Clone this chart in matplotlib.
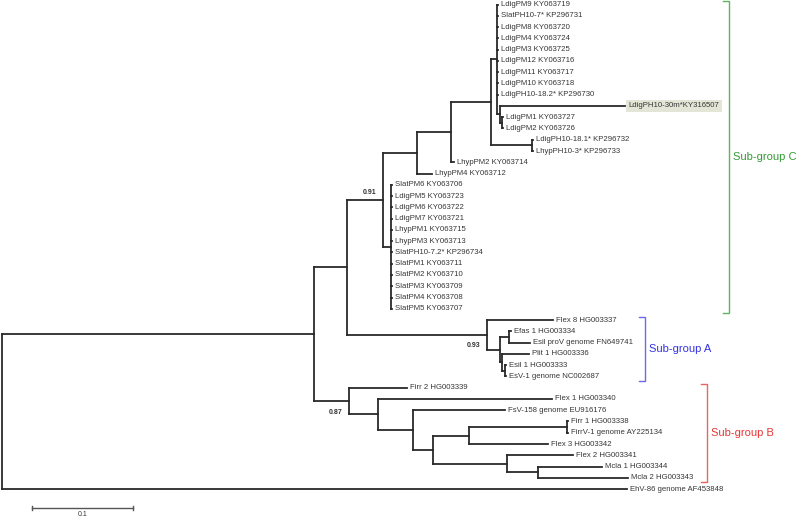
import matplotlib
matplotlib.use("Agg")
import matplotlib.pyplot as plt
from matplotlib.collections import LineCollection

# ---------------- data ----------------
LEAF_LABELS = [
    "LdigPM9 KY063719", "SlatPH10-7* KP296731", "LdigPM8 KY063720", "LdigPM4 KY063724",
    "LdigPM3 KY063725", "LdigPM12 KY063716", "LdigPM11 KY063717", "LdigPM10 KY063718",
    "LdigPH10-18.2* KP296730", "LdigPH10-30m*KY316507", "LdigPM1 KY063727", "LdigPM2 KY063726",
    "LdigPH10-18.1* KP296732", "LhypPH10-3* KP296733", "LhypPM2 KY063714", "LhypPM4 KY063712",
    "SlatPM6 KY063706", "LdigPM5 KY063723", "LdigPM6 KY063722", "LdigPM7 KY063721",
    "LhypPM1 KY063715", "LhypPM3 KY063713", "SlatPH10-7.2* KP296734", "SlatPM1 KY063711",
    "SlatPM2 KY063710", "SlatPM3 KY063709", "SlatPM4 KY063708", "SlatPM5 KY063707",
    "Flex 8 HG003337", "Efas 1 HG003334", "Esil proV genome FN649741", "Plit 1 HG003336",
    "Esil 1 HG003333", "EsV-1 genome NC002687", "Firr 2 HG003339", "Flex 1 HG003340",
    "FsV-158 genome EU916176", "Firr 1 HG003338", "FirrV-1 genome AY225134", "Flex 3 HG003342",
    "Flex 2 HG003341", "Mcla 1 HG003344", "Mcla 2 HG003343", "EhV-86 genome AF453848",
]
HIGHLIGHT_LEAF = 9

# clade topology (Newick, leaves = indices into LEAF_LABELS, internal labels = support)
CLADE_P = ("(0:0.001,1:0.001,2:0.001,3:0.001,4:0.001,5:0.001,6:0.001,7:0.001,8:0.001,"
           "(9:0.1229,(10:0.001,11:0.001):0.002):0.003)")
CLADE_O = "(" + CLADE_P + ":0.0059,(12:0.001,13:0.001):0.0403)"
CLADE_N = "(" + CLADE_O + ":0.0393,14:0.003)"
CLADE_C1 = "(" + CLADE_N + ":0.0334,15:0.0147)"
CLADE_M = "(" + ",".join(f"{i}:0.0005" for i in range(16, 28)) + ")"
CLADE_C = "(" + CLADE_C1 + ":0.0334," + CLADE_M + ":0.0079)0.91"
CLADE_A = ("(28:0.0649,((29:0.002,30:0.0206):0.0088,"
           "(31:0.0265,(32:0.001,33:0.001):0.003):0.002):0.0128)0.93")
CLADE_K = "(40:0.0649,(41:0.0629,42:0.0885):0.0305)"
CLADE_I = "((37:0.001,38:0.001):0.0964,39:0.0777)"
CLADE_G = "(36:0.0905,(" + CLADE_I + ":0.0354," + CLADE_K + ":0.0728):0.0197)"
CLADE_B = "(34:0.057,(35:0.1711," + CLADE_G + ":0.0344):0.0285)0.87"
CLADE_CA = "(" + CLADE_C + ":0.0354," + CLADE_A + ":0.1377)"
TREE = "((" + CLADE_CA + ":0.0324," + CLADE_B + ":0.0344):0.3068,43:0.6146);"

SUPPORT_PLACE = {"0.91": "above", "0.93": "below", "0.87": "below"}

GROUP_NAMES = ["Sub-group C", "Sub-group A", "Sub-group B"]
GROUP_FIRST = [0, 28, 34]
GROUP_LAST = [27, 33, 42]
GROUP_COLORS = ["#339933", "#3333e0", "#e83535"]
GROUP_LINE_COLORS = ["#5fb35f", "#6a6aee", "#ee6262"]

SCALE_VALUE = 0.1


# ---------------- tree parsing/layout ----------------
def parse_newick(s):
    pos = 0

    def node():
        nonlocal pos
        children = []
        if s[pos] == "(":
            pos += 1
            while True:
                children.append(node())
                if s[pos] == ",":
                    pos += 1
                    continue
                if s[pos] == ")":
                    pos += 1
                    break
        start = pos
        while pos < len(s) and s[pos] not in ":,();":
            pos += 1
        label = s[start:pos]
        length = 0.0
        if pos < len(s) and s[pos] == ":":
            pos += 1
            start = pos
            while pos < len(s) and s[pos] not in ",();":
                pos += 1
            length = float(s[start:pos])
        return {"children": children, "label": label, "length": length}

    return node()


root = parse_newick(TREE)


def layout(n, x0):
    n["x"] = x0 + n["length"]
    if n["children"]:
        for c in n["children"]:
            layout(c, n["x"])
        n["y"] = 0.5 * (n["children"][0]["y"] + n["children"][-1]["y"])
    else:
        n["y"] = int(n["label"])


root["length"] = 0.0
layout(root, 0.0)

# ---------------- figure ----------------
W, H = 799, 518
DPI = 100
PX_PER_UNIT = 1017.0
X_ORIGIN_PX = 2.0
Y0_PX, STEP_PX = 4.5, 11.27

fig = plt.figure(figsize=(W / DPI, H / DPI), dpi=DPI)
ax = fig.add_axes([0, 0, 1, 1])
ax.set_xlim(-X_ORIGIN_PX / PX_PER_UNIT, (W - X_ORIGIN_PX) / PX_PER_UNIT)
ax.set_ylim((H - Y0_PX) / STEP_PX, -Y0_PX / STEP_PX)
ax.axis("off")

FONT = "Liberation Sans"
TXT = "#363636"
LINE = "#2a2a2a"

segs = []
nodes = []


def collect(n, parent_x):
    nodes.append(n)
    if parent_x is not None:
        segs.append([(parent_x, n["y"]), (n["x"], n["y"])])
    if n["children"]:
        segs.append([(n["x"], n["children"][0]["y"]), (n["x"], n["children"][-1]["y"])])
        for c in n["children"]:
            collect(c, n["x"])


collect(root, None)
ax.add_collection(LineCollection(segs, colors=LINE, linewidths=1.3, capstyle="projecting"))

for n in nodes:
    if not n["children"]:
        idx = int(n["label"])
        kw = {}
        if idx == HIGHLIGHT_LEAF:
            kw["bbox"] = dict(boxstyle="square,pad=0.35", fc="#e3e6d6", ec="none")
        ax.annotate(LEAF_LABELS[idx], (n["x"], n["y"]), xytext=(2.4, 0),
                    textcoords="offset points", va="center", ha="left",
                    fontsize=5.6, family=FONT, color=TXT, **kw)
    elif n["label"]:
        place = SUPPORT_PLACE.get(n["label"], "above")
        dy = 5.0 if place == "above" else -8.0
        ax.annotate(n["label"], (n["x"], n["y"]), xytext=(-5.0, dy),
                    textcoords="offset points", va="center", ha="right",
                    fontsize=5.0, family=FONT, weight="bold", color="#333333")

# group brackets
BRACKET_X_PX = [729, 645, 707]
for name, f, l, col, lcol, bx in zip(GROUP_NAMES, GROUP_FIRST, GROUP_LAST,
                                     GROUP_COLORS, GROUP_LINE_COLORS, BRACKET_X_PX):
    xb = (bx - X_ORIGIN_PX) / PX_PER_UNIT
    xt = (bx - 6 - X_ORIGIN_PX) / PX_PER_UNIT
    y1, y2 = f - 0.3, l + 0.4
    ax.plot([xt, xb, xb, xt], [y1, y1, y2, y2], color=lcol, lw=1.0,
            solid_joinstyle="miter")
    ax.text(xb + 3.5 / PX_PER_UNIT, 0.5 * (f + l) + 0.05, name, color=col,
            fontsize=8.0, family=FONT, va="center", ha="left")

# scale bar
sx0 = (31.7 - X_ORIGIN_PX) / PX_PER_UNIT
sy = (508 - Y0_PX) / STEP_PX
ax.plot([sx0, sx0 + SCALE_VALUE], [sy, sy], color="#555555", lw=1.0)
tick = 0.22
for xx in (sx0, sx0 + SCALE_VALUE):
    ax.plot([xx, xx], [sy - tick, sy + tick], color="#555555", lw=1.0)
ax.text(sx0 + SCALE_VALUE / 2, sy + 0.62, f"{SCALE_VALUE:g}", ha="center", va="center",
        fontsize=5.0, family=FONT, color=TXT)

fig.savefig("out.png", dpi=DPI)
